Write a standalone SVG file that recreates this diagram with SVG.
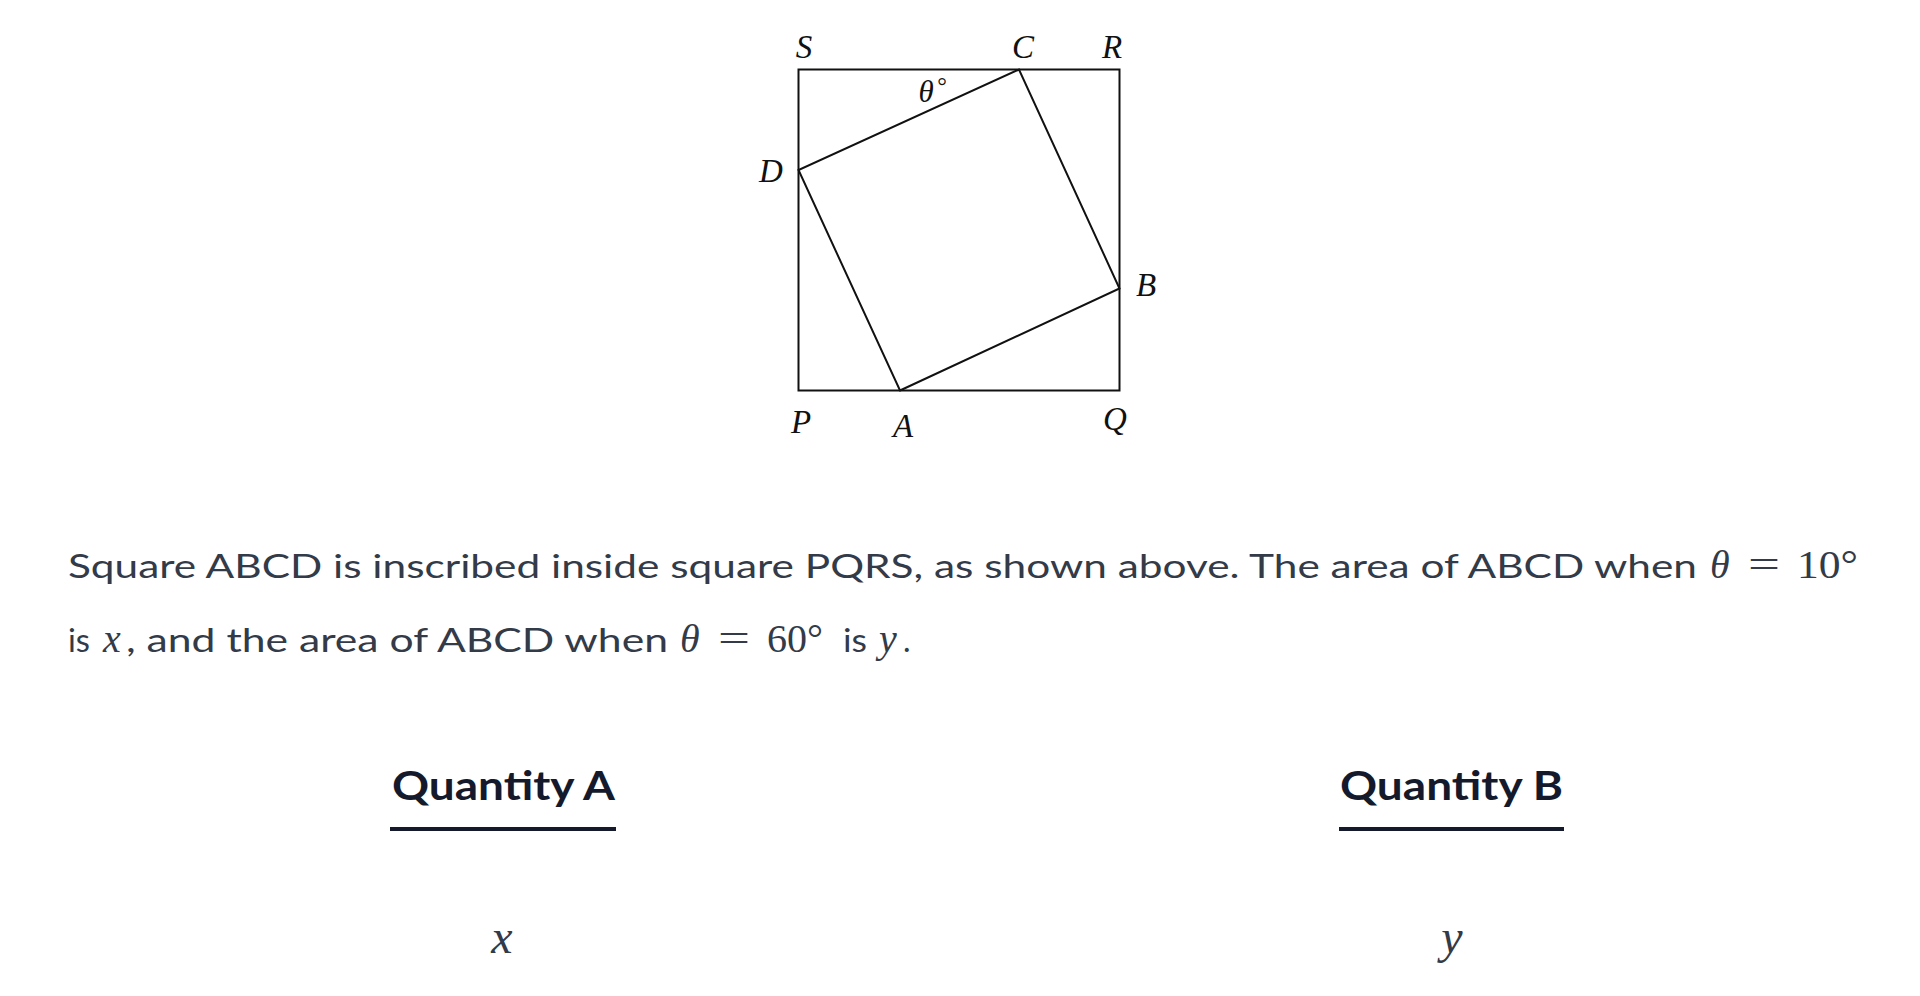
<svg xmlns="http://www.w3.org/2000/svg" width="1920" height="996" viewBox="0 0 1920 996">
<style>
.lbl{font-family:"Liberation Serif","DejaVu Serif",serif;font-style:italic;font-size:33px;fill:#111;text-anchor:middle}
.fig{fill:none;stroke:#111;stroke-width:2}
.p{font-family:Lato,"Liberation Sans",sans-serif;font-size:32px;fill:#333a48}
.m{font-family:"Liberation Serif","DejaVu Serif",serif;font-size:40px;fill:#333a48}
.mi{font-family:"Liberation Serif","DejaVu Serif",serif;font-style:italic;font-size:40px;fill:#333a48}
.q{font-family:Lato,"Liberation Sans",sans-serif;font-weight:bold;font-size:40px;fill:#141a2b}
.v{font-family:"Liberation Serif","DejaVu Serif",serif;font-style:italic;font-size:48px;fill:#333a48;text-anchor:middle}
</style>
<rect width="1920" height="996" fill="#fff"/>
<g id="figure">
<rect id="PQRS" class="fig" x="798.5" y="69.5" width="321" height="321"/>
<polygon id="ABCD" class="fig" points="900,390.5 1119.5,288.5 1019,69.5 798.5,170"/>
</g>
<g id="labels">
<text class="lbl" x="804" y="58">S</text>
<text class="lbl" x="1023" y="58">C</text>
<text class="lbl" x="1112" y="58">R</text>
<text class="lbl" x="771" y="182">D</text>
<text class="lbl" x="1146" y="296">B</text>
<text class="lbl" x="801" y="433">P</text>
<text class="lbl" x="903" y="437">A</text>
<text class="lbl" x="1115" y="430">Q</text>
<text class="lbl" x="926" y="102" style="font-size:31px">θ</text>
<text class="lbl" x="942" y="94" style="font-size:24px;font-style:normal">°</text>
</g>
<g id="paragraph">
<text class="p" x="68" y="578" textLength="1629" lengthAdjust="spacingAndGlyphs">Square ABCD is inscribed inside square PQRS, as shown above. The area of ABCD when</text>
<text class="mi" x="1710" y="578">θ</text>
<text class="m" x="1748" y="578" textLength="32" lengthAdjust="spacingAndGlyphs">=</text>
<text class="m" x="1797" y="578" textLength="61" lengthAdjust="spacingAndGlyphs">10°</text>
<text class="p" x="68" y="652" textLength="22" lengthAdjust="spacingAndGlyphs">is</text>
<text class="mi" x="103" y="652">x</text>
<text class="p" x="126" y="652" textLength="542" lengthAdjust="spacingAndGlyphs">, and the area of ABCD when</text>
<text class="mi" x="680" y="652">θ</text>
<text class="m" x="718" y="652" textLength="32" lengthAdjust="spacingAndGlyphs">=</text>
<text class="m" x="767" y="652" textLength="56" lengthAdjust="spacingAndGlyphs">60°</text>
<text class="p" x="843" y="652" textLength="24" lengthAdjust="spacingAndGlyphs">is</text>
<text class="mi" x="879" y="652">y</text>
<text class="p" x="903" y="652">.</text>
</g>
<g id="quantityA">
<text class="q" x="392" y="800" textLength="223" lengthAdjust="spacingAndGlyphs">Quantity A</text>
<rect x="390" y="827" width="226" height="4" fill="#141a2b"/>
<text class="v" x="502" y="953">x</text>
</g>
<g id="quantityB">
<text class="q" x="1340" y="800" textLength="223" lengthAdjust="spacingAndGlyphs">Quantity B</text>
<rect x="1339" y="827" width="225" height="4" fill="#141a2b"/>
<text class="v" x="1452" y="953">y</text>
</g>
</svg>
